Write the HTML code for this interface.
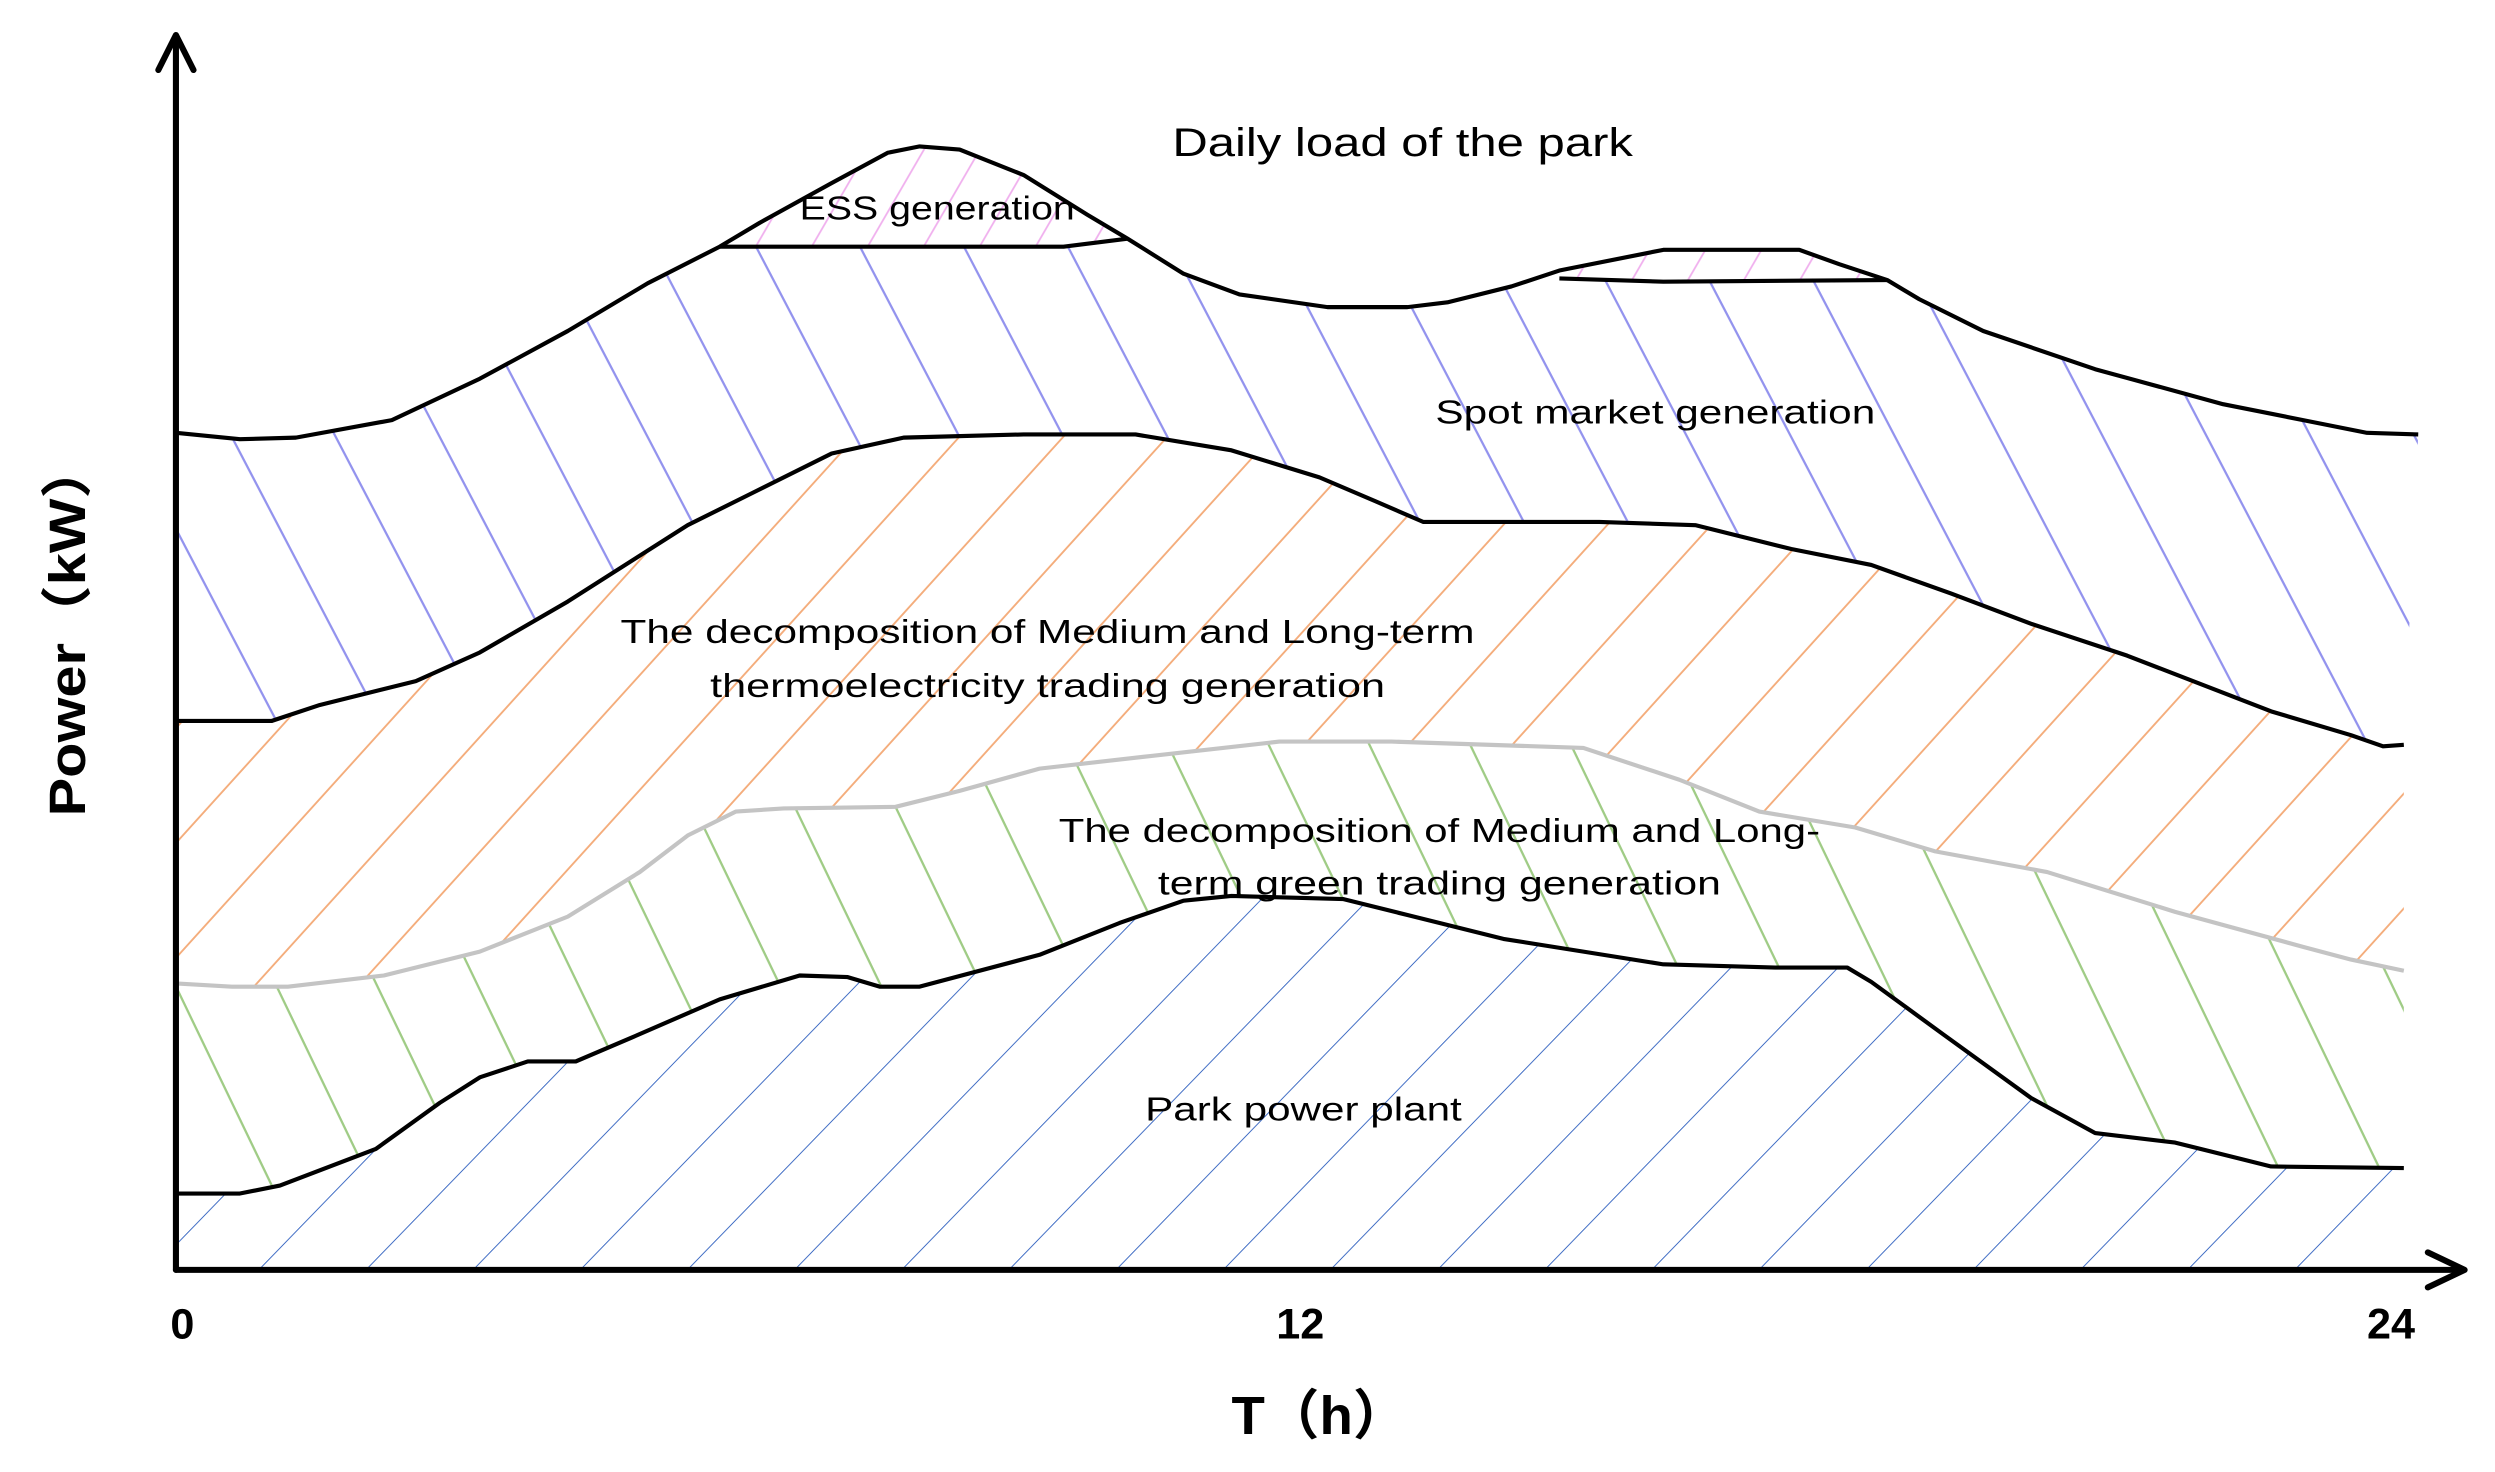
<!DOCTYPE html>
<html><head><meta charset="utf-8"><style>html,body{margin:0;padding:0;background:#fff}svg{display:block}</style></head>
<body>
<svg width="2495" height="1472" viewBox="0 0 1560 925" preserveAspectRatio="none" xmlns="http://www.w3.org/2000/svg">
<defs>
<pattern id="pBlue" patternUnits="userSpaceOnUse" width="65" height="20" patternTransform="skewX(27.5)"><line x1="2" y1="0" x2="2" y2="20" stroke="#9393ee" stroke-width="1.6"/></pattern>
<pattern id="pOr" patternUnits="userSpaceOnUse" width="65" height="20" patternTransform="skewX(-42)"><line x1="2" y1="0" x2="2" y2="20" stroke="#f4ad7c" stroke-width="1.6"/></pattern>
<pattern id="pGr" patternUnits="userSpaceOnUse" width="63" height="20" patternTransform="skewX(25.6)"><line x1="2" y1="0" x2="2" y2="20" stroke="#a0cc86" stroke-width="1.6"/></pattern>
<pattern id="pDb" patternUnits="userSpaceOnUse" width="67" height="20" patternTransform="translate(128,0) skewX(-44)"><line x1="0" y1="0" x2="0" y2="20" stroke="#3f6cc4" stroke-width="1.7"/></pattern>
<pattern id="pPk" patternUnits="userSpaceOnUse" width="35" height="20" patternTransform="skewX(-30)"><line x1="2" y1="0" x2="2" y2="20" stroke="#f0b0ee" stroke-width="1.3"/></pattern>
</defs>
<path fill="url(#pBlue)" d="M110,272 L150,276 185,275 245,264 300,238 355,208 405,178 450,155 665,155 705,150 740,172 775,185 830,193 880,193 905,190 945,180 975,175 1040,177 1180,176 1200,188 1240,208 1310,232 1390,254 1440,264 1480,272 1512,273 L1503,468 1490,469 1470,462 1420,447 1330,412 1270,392 1220,373 1170,355 1120,345 1060,330 1000,328 890,328 860,315 825,300 770,283 710,273 640,273 565,275 520,285 470,310 430,330 355,378 300,410 260,428 200,443 170,453 110,453Z"/>
<path fill="url(#pOr)" d="M110,453 L170,453 200,443 260,428 300,410 355,378 430,330 470,310 520,285 565,275 640,273 710,273 770,283 825,300 860,315 890,328 1000,328 1060,330 1120,345 1170,355 1220,373 1270,392 1330,412 1420,447 1470,462 1490,469 1503,468 L1503,610 1470,603 1440,595 1360,573 1280,548 1210,535 1160,520 1100,510 1050,490 990,470 870,466 800,466 720,475 650,483 600,497 560,507 490,508 460,510 430,525 400,548 355,576 300,598 240,613 180,620 145,620 110,618Z"/>
<path fill="url(#pGr)" d="M110,618 L145,620 180,620 240,613 300,598 355,576 400,548 430,525 460,510 490,508 560,507 600,497 650,483 720,475 800,466 870,466 990,470 1050,490 1100,510 1160,520 1210,535 1280,548 1360,573 1440,595 1470,603 1503,610 L1503,734 1420,733 1400,728 1360,718 1310,712 1270,690 1215,650 1170,617 1155,608 1110,608 1040,606 990,598 940,590 880,575 840,565 770,563 740,566 700,580 650,600 575,620 550,620 530,614 500,613 450,628 395,652 360,667 330,667 300,677 275,693 235,722 175,745 150,750 110,750Z"/>
<path fill="url(#pDb)" d="M110,750 L150,750 175,745 235,722 275,693 300,677 330,667 360,667 395,652 450,628 500,613 530,614 550,620 575,620 650,600 700,580 740,566 770,563 840,565 880,575 940,590 990,598 1040,606 1110,608 1155,608 1170,617 1215,650 1270,690 1310,712 1360,718 1400,728 1420,733 1503,734 L1503,798 110,798Z"/>
<path fill="url(#pPk)" d="M450,155 L475,140 520,115 555,96 575,92 600,94 640,110 680,135 705,150 665,155Z"/>
<path fill="url(#pPk)" d="M975,175 L975,170 1040,157 1125,157 1150,166 1180,176 1040,177Z"/>
<g fill="none" stroke="#000" stroke-width="2.6" stroke-linejoin="round">
<polyline points="110,272 150,276 185,275 245,264 300,238 355,208 405,178 450,155 475,140 520,115 555,96 575,92 600,94 640,110 680,135 705,150 740,172 775,185 830,193 880,193 905,190 945,180 975,170 1040,157 1125,157 1150,166 1180,176 1200,188 1240,208 1310,232 1390,254 1440,264 1480,272 1512,273"/>
<polyline points="450,155 665,155 705,150"/>
<polyline points="975,175 1040,177 1180,176"/>
<polyline points="110,453 170,453 200,443 260,428 300,410 355,378 430,330 470,310 520,285 565,275 640,273 710,273 770,283 825,300 860,315 890,328 1000,328 1060,330 1120,345 1170,355 1220,373 1270,392 1330,412 1420,447 1470,462 1490,469 1503,468"/>
<polyline points="110,750 150,750 175,745 235,722 275,693 300,677 330,667 360,667 395,652 450,628 500,613 530,614 550,620 575,620 650,600 700,580 740,566 770,563 840,565 880,575 940,590 990,598 1040,606 1110,608 1155,608 1170,617 1215,650 1270,690 1310,712 1360,718 1400,728 1420,733 1503,734"/>
</g>
<polyline fill="none" stroke="#c4c4c4" stroke-width="2.6" stroke-linejoin="round" points="110,618 145,620 180,620 240,613 300,598 355,576 400,548 430,525 460,510 490,508 560,507 600,497 650,483 720,475 800,466 870,466 990,470 1050,490 1100,510 1160,520 1210,535 1280,548 1360,573 1440,595 1470,603 1503,610"/>
<g stroke="#000" stroke-width="3.8" fill="none" stroke-linecap="round" stroke-linejoin="round">
<line x1="110" y1="798" x2="110" y2="24"/>
<line x1="110" y1="798" x2="1540" y2="798"/>
<polyline points="99,44 110,22 121,44"/>
<polyline points="1518,787 1541,798 1518,809"/>
</g>
<g font-family="Liberation Sans, sans-serif" fill="#000">
<text x="877" y="98" font-size="25" text-anchor="middle" textLength="288" lengthAdjust="spacingAndGlyphs">Daily load of the park</text>
<text x="586" y="138" font-size="21" text-anchor="middle" textLength="172" lengthAdjust="spacingAndGlyphs">ESS generation</text>
<text x="1035" y="266" font-size="21" text-anchor="middle" textLength="275" lengthAdjust="spacingAndGlyphs">Spot market generation</text>
<text x="655" y="404" font-size="21" text-anchor="middle" textLength="534" lengthAdjust="spacingAndGlyphs">The decomposition of Medium and Long-term</text>
<text x="655" y="438" font-size="21" text-anchor="middle" textLength="422" lengthAdjust="spacingAndGlyphs">thermoelectricity trading generation</text>
<text x="900" y="529" font-size="21" text-anchor="middle" textLength="476" lengthAdjust="spacingAndGlyphs">The decomposition of Medium and Long-</text>
<text x="900" y="562" font-size="21" text-anchor="middle" textLength="352" lengthAdjust="spacingAndGlyphs">term green trading generation</text>
<text x="815" y="704" font-size="21" text-anchor="middle" textLength="198" lengthAdjust="spacingAndGlyphs">Park power plant</text>
<text x="114" y="841" font-size="27" font-weight="bold" text-anchor="middle">0</text>
<text x="813" y="841" font-size="27" font-weight="bold" text-anchor="middle">12</text>
<text x="1495" y="841" font-size="27" font-weight="bold" text-anchor="middle">24</text>
</g>
<text x="825" y="901" font-family="Liberation Sans, 'Noto Sans CJK SC', sans-serif" font-size="34" font-weight="bold" text-anchor="middle" textLength="110" lengthAdjust="spacingAndGlyphs">T（h）</text>
<text transform="translate(53,395) rotate(-90)" font-family="Liberation Sans, 'Noto Sans CJK SC', sans-serif" font-size="32" font-weight="bold" text-anchor="middle" textLength="236" lengthAdjust="spacingAndGlyphs">Power（kW）</text>
</svg>
</body></html>
